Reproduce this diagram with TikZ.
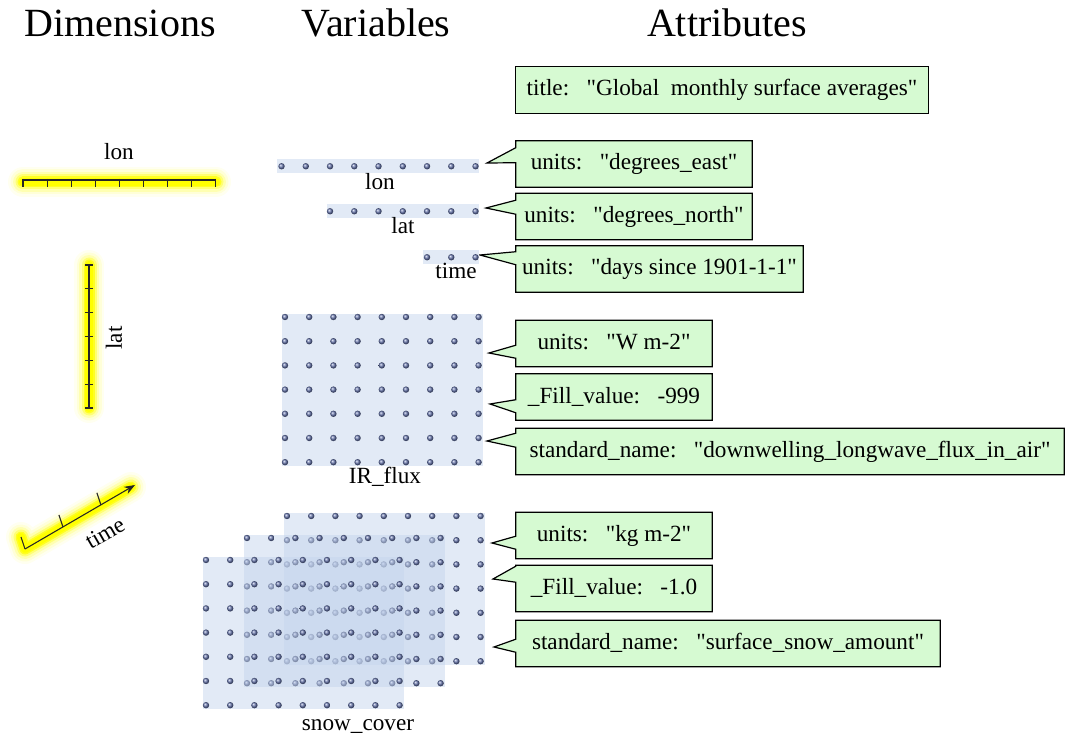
\documentclass[tikz,border=0pt]{standalone}
\usepackage{fontspec}
\setmainfont{Liberation Serif}[Ligatures=TeXOff]
\usetikzlibrary{calc,backgrounds,arrows.meta}
\definecolor{glowy}{RGB}{255,255,0}
\definecolor{varblue}{RGB}{226,234,246}
\definecolor{snowblue}{RGB}{197,213,237}
\definecolor{dotblue}{RGB}{105,120,175}
\definecolor{attrgreen}{RGB}{214,250,210}
\newcommand{\GlowPath}[1]{%
  \foreach \w/\o in {22.5/0.06,18.75/0.1,15/0.18,11.25/0.35,8.25/0.7,6/1}{%
    \draw[glowy, line width=\w pt, draw opacity=\o, line cap=round, line join=round] #1;}}
\begin{document}
\begin{tikzpicture}[x=0.75pt,y=-0.75pt,
  header/.style={font=\fontsize{30}{36}\selectfont, anchor=base, inner sep=0},
  lbl/.style={font=\fontsize{17.4}{21}\selectfont, inner sep=0},
  attr/.style={font=\fontsize{17.4}{21}\selectfont, inner sep=0, text height=12.5pt, text depth=3.5pt, minimum height=34.5pt},
  calloutline/.style={draw=black, line width=0.9pt, fill=attrgreen, line join=miter},
  varlayer/.style={fill=varblue, inner sep=0, anchor=north west},
  snowlayer/.style={fill=snowblue, fill opacity=0.5, inner sep=0, anchor=north west, minimum width=150.75pt, minimum height=114pt},
  dot/.style={ball color=dotblue},
  ruler/.style={draw=black!85, line width=0.8pt}]

\useasboundingbox (0,0) rectangle (1067,745);

% headers
\node[header] (hdim) at (120,37) {Dimensions};
\node[header] (hvar) at (376,37) {Variables};
\node[header] (hatt) at (727,37) {Attributes};

% ---------- dimensions
\node[lbl, anchor=base] (dlon) at (119,160) {lon};
\GlowPath{(23,182) -- (216,182)}
\coordinate (lonA) at (23,180);
\coordinate (lonB) at (216,180);
\draw[ruler] (lonA) -- (lonB);
\foreach \i in {0,...,8} \draw[ruler] ($(lonA)+({24.1*\i},-1)$) -- ++(0,8);

\GlowPath{(89,265) -- (89,408)}
\coordinate (latA) at (89,265);
\coordinate (latB) at (89,408);
\draw[ruler] (latA) -- (latB);
\foreach \j in {0,...,6} \draw[ruler] ($(latA)+(-4,{23.83*\j})$) -- ++(8,0);
\node[lbl, rotate=90] (dlat) at (114,338) {lat};

\coordinate (tA) at (25,549);
\coordinate (tB) at (135,485);
\GlowPath{(21,537) -- (25,549) -- (131,487)}
\draw[ruler, -{Stealth[length=8pt,width=6pt]}] (tA) -- (tB);
\foreach \t in {0,0.345,0.69} \draw[ruler] ($(tA)!\t!(tB)$) -- ++(-4,-12);
\node[lbl, rotate=30] (dtime) at (105,533) {time};

% ---------- variables
\node[varlayer, minimum width=151.5pt, minimum height=10.5pt] (vlon) at (277,159) {};
\foreach \k in {0,...,8} \shade[dot] ($(vlon.east)+({-4-24.25*\k},0)$) circle (2.4pt);
\node[lbl, anchor=base] (vlonlbl) at (380,190) {lon};

\node[varlayer, minimum width=114pt, minimum height=10.5pt] (vlat) at (327,204) {};
\foreach \k in {0,...,6} \shade[dot] ($(vlat.east)+({-4-24.25*\k},0)$) circle (2.4pt);
\node[lbl, anchor=base] (vlatlbl) at (403,234) {lat};

\node[varlayer, minimum width=42pt, minimum height=10.5pt] (vtime) at (423,250) {};
\foreach \k in {0,...,2} \shade[dot] ($(vtime.east)+({-4-24.25*\k},0)$) circle (2.4pt);
\node[lbl, anchor=base] (vtimelbl) at (456,278) {time};

\node[varlayer, minimum width=150.75pt, minimum height=114pt] (vir) at (282,314) {};
\foreach \i in {0,...,8} \foreach \j in {0,...,6}
  \shade[dot] ($(vir.north west)+({3+24.2*\i},{3+24.2*\j})$) circle (2.4pt);
\node[lbl, anchor=base] (virlbl) at (385,483) {IR\_flux};

\node[snowlayer] (snowA) at (284,513) {};
\foreach \i in {0,...,8} \foreach \j in {0,...,6}
  \shade[dot] ($(snowA.north west)+({3+24.2*\i},{3+24.2*\j})$) circle (2.4pt);
\node[snowlayer] (snowB) at (244,535) {};
\foreach \i in {0,...,8} \foreach \j in {0,...,6}
  \shade[dot] ($(snowB.north west)+({3+24.2*\i},{3+24.2*\j})$) circle (2.4pt);
\node[snowlayer] (snowC) at (203,557) {};
\foreach \i in {0,...,8} \foreach \j in {0,...,6}
  \shade[dot] ($(snowC.north west)+({3+24.2*\i},{3+24.2*\j})$) circle (2.4pt);
\node[lbl, anchor=base] (snowlbl) at (358,730) {snow\_cover};

% ---------- attributes
\node[attr, minimum width=309pt] (atitle) at (722,90) {title:\ \ \ "Global\ \ monthly surface averages"};
\node[attr, minimum width=177pt] (aeast) at (634,164) {units:\ \ \ "degrees\_east"};
\coordinate (teast) at (487,163);
\node[attr, minimum width=177pt] (anorth) at (634,216.5) {units:\ \ \ "degrees\_north"};
\coordinate (tnorth) at (486,208);
\node[attr, minimum width=215.25pt] (adays) at (659.5,269) {units:\ \ \ "days since 1901-1-1"};
\coordinate (tdays) at (480,255);
\node[attr, minimum width=147pt] (aW) at (614,343.5) {units:\ \ \ "W m-2"};
\coordinate (tW) at (489,353);
\node[attr, minimum width=147pt] (afillA) at (614,397) {\_Fill\_value:\ \ \ -999};
\coordinate (tfillA) at (490,404);
\node[attr, minimum width=411pt] (astdA) at (790,451.5) {standard\_name:\ \ \ "downwelling\_longwave\_flux\_in\_air"};
\coordinate (tstdA) at (487,441);
\node[attr, minimum width=147pt] (akg) at (614,535.5) {units:\ \ \ "kg m-2"};
\coordinate (tkg) at (492,543);
\node[attr, minimum width=147pt] (afillB) at (614,588.5) {\_Fill\_value:\ \ \ -1.0};
\coordinate (tfillB) at (493,579);
\node[attr, minimum width=318pt] (astdB) at (728,643.5) {standard\_name:\ \ \ "surface\_snow\_amount"};
\coordinate (tstdB) at (494,647);

\begin{scope}[on background layer]
\draw[calloutline] (atitle.north west) rectangle (atitle.south east);
\foreach \n/\t/\a/\b in {aeast/teast/7/22, anorth/tnorth/7/21, adays/tdays/6/19, aW/tW/25/38, afillA/tfillA/26/39, astdA/tstdA/5/19, akg/tkg/24/37, afillB/tfillB/1/17, astdB/tstdB/19/32}
  \draw[calloutline] (\n.north west) -- (\n.north east) -- (\n.south east) -- (\n.south west) -- ($(\n.north west)+(0,\b)$) -- (\t) -- ($(\n.north west)+(0,\a)$) -- cycle;
\end{scope}
\end{tikzpicture}
\end{document}
